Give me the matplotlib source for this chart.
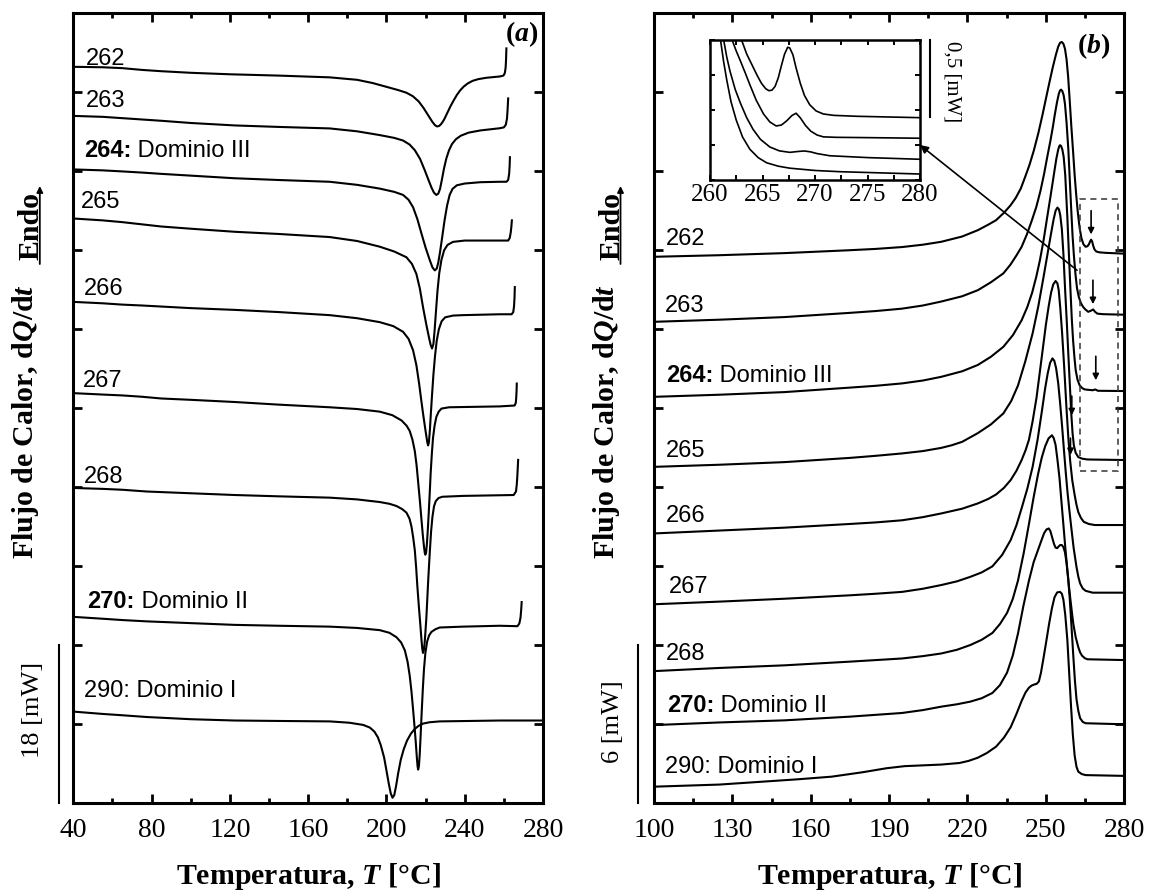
import numpy as np
import matplotlib
matplotlib.use("Agg")
import matplotlib.pyplot as plt
from matplotlib.ticker import MultipleLocator, NullLocator, FixedLocator
from matplotlib.patches import Rectangle, ConnectionPatch, FancyArrowPatch
from matplotlib.transforms import blended_transform_factory as blend

SERIF = "Liberation Serif"
SANS = "Liberation Sans"
plt.rcParams["font.family"] = [SERIF, "DejaVu Serif"]
plt.rcParams["mathtext.fontset"] = "custom"
plt.rcParams["mathtext.it"] = "Liberation Serif:italic:bold"
plt.rcParams["mathtext.rm"] = "Liberation Serif:bold"
plt.rcParams["mathtext.bf"] = "Liberation Serif:bold"

# ---------------- data: panel (a), cooling scans (T [°C], heat flow [mW], shifted) -------------
A262 = [(40.5,83.9),(55,83.85),(65,83.75),(75,83.55),(85,83.4),(100,83.22),(120,83.05),(145,82.9),
        (171,82.7),(185,82.42),(193,82.05),(200,81.62),(206,81.25),(210.2,80.95),(213.5,80.55),
        (216.5,79.95),(219,79.2),(221.4,78.35),(223.4,77.65),(224.8,77.25),(225.9,77.1),(227,77.17),
        (228.1,77.42),(229.5,77.9),(231,78.6),(232.6,79.35),(234.3,80.05),(236,80.7),(237.8,81.25),
        (239.5,81.65),(241.5,82.0),(244,82.3),(247,82.5),(251,82.65),(257.9,82.8),(259.8,82.9),
        (260.5,83.2),(260.9,83.8),(261.1,84.6),(261.3,86.0)]
A263 = [(41,78.3),(55,78.2),(65,78.05),(75,77.9),(85,77.75),(100,77.5),(122.5,77.22),(145,77.05),
        (171,76.88),(185,76.55),(196.6,76.12),(204,75.8),(208.5,75.5),(211.8,75.05),(214.5,74.4),
        (217.2,73.4),(219.6,72.1),(221.5,71.0),(223.0,70.15),(224.3,69.55),(225.5,69.3),(226.5,69.45),
        (227.4,70.0),(228.3,71.0),(229.4,72.3),(230.6,73.45),(232,74.4),(233.5,75.1),(235.5,75.65),
        (238,76.05),(242,76.4),(248,76.65),(257.9,76.9),(260,77.0),(261,77.3),(261.6,78.0),
        (261.9,79.0),(262.2,80.3)]
A264 = [(41,72.2),(55,72.1),(65,71.98),(75,71.85),(85,71.7),(100,71.5),(122.5,71.2),(145,71.0),
        (171,70.8),(185,70.45),(196.6,70.02),(204,69.65),(208.5,69.3),(211.3,68.75),(213.6,67.9),
        (215.8,66.55),(217.9,64.9),(220,63.3),(222.1,61.9),(223.5,61.05),(224.7,60.7),(225.7,60.9),
        (226.5,61.6),(227.4,62.8),(228.5,64.5),(229.7,66.4),(231,68.1),(232.3,69.3),(233.8,70.0),
        (236,70.4),(240,70.6),(248,70.75),(257.9,70.8),(261.3,70.8),(262.2,71.0),(262.7,71.7),
        (262.95,72.6),(263.1,73.6)]
A265 = [(41,66.6),(55,66.4),(65,66.2),(75,65.95),(85,65.7),(100,65.45),(122.5,65.1),(145,64.85),
        (171,64.5),(185,64.05),(196.6,63.4),(204,62.85),(210.2,62.2),(213,61.45),(215.3,60.3),
        (217.1,58.6),(218.7,56.5),(220.4,54.5),(221.7,53.1),(222.6,52.2),(223.3,51.8),(224.0,52.3),
        (224.6,53.8),(225.3,56.0),(226.1,58.4),(227.0,60.4),(228.1,61.9),(229.5,63.0),(231.2,63.6),
        (234,63.95),(240,64.1),(262.2,64.1),(263.0,64.4),(263.5,65.0),(263.8,65.6),(264.1,66.4)]
A266 = [(41,57.1),(55,56.95),(65,56.8),(75,56.7),(85,56.58),(100,56.4),(122.5,56.2),(145,55.95),
        (171,55.6),(185,55.25),(196.6,54.8),(203.5,54.35),(208.5,53.7),(211.3,52.9),(213.6,51.6),
        (215.3,49.9),(216.7,47.8),(217.8,45.9),(218.7,44.4),(219.6,43.0),(220.4,41.8),(220.9,41.1),
        (221.3,40.75),(221.7,41.1),(222.2,42.5),(222.7,44.4),(223.3,46.5),(224.0,48.8),(224.8,50.9),
        (225.7,52.7),(226.8,54.0),(228.2,54.9),(230,55.35),(234,55.55),(239.1,55.6),(257.9,55.7),
        (264.0,55.7),(264.8,55.95),(265.2,56.6),(265.45,57.6),(265.6,58.8)]
A267 = [(41,46.7),(55,46.55),(65,46.45),(75,46.3),(85,46.1),(100,45.95),(122.5,45.7),(145,45.4),
        (171,45.1),(185,44.9),(196.6,44.6),(203,44.2),(207.7,43.6),(210.3,43.0),(211.9,42.4),
        (213.3,41.4),(214.5,40.1),(215.4,38.5),(216.2,36.6),(217.1,34.4),(217.9,32.3),(218.6,30.5),
        (219.2,29.2),(219.6,28.5),(219.9,28.3),(220.3,28.6),(220.7,29.6),(221.1,31.0),(221.6,33.0),
        (222.1,35.2),(222.6,37.6),(223.2,39.8),(223.8,41.6),(224.6,43.0),(225.5,44.0),(226.7,44.6),
        (228.1,44.95),(232,45.1),(257.9,45.2),(265.5,45.3),(266.1,45.6),(266.35,46.3),(266.5,47.0),
        (266.6,47.8)]
A268 = [(40.5,35.9),(55,35.8),(65,35.7),(77.5,35.5),(100,35.3),(122.5,35.1),(145,34.95),(171,34.8),
        (185,34.6),(196.6,34.3),(201.5,34.1),(205.1,33.85),(208,33.5),(210.2,33.1),(211.8,32.4),
        (212.8,31.5),(213.7,30.2),(214.5,28.8),(215.2,26.8),(215.8,24.7),(216.6,22.3),(217.4,20.1),
        (217.9,18.6),(218.3,17.6),(218.7,17.1),(219.1,17.4),(219.5,18.2),(219.9,19.4),(220.4,21.1),
        (220.8,22.9),(221.4,25.6),(222.1,28.4),(222.8,30.9),(223.5,32.6),(224.3,33.8),(225.2,34.4),
        (226.6,34.75),(228.5,34.9),(239.1,35.0),(265,35.1),(266.2,35.5),(266.6,36.3),(266.9,37.3),
        (267.3,39.1)]
A270 = [(41,21.2),(55,21.0),(65,20.85),(77.5,20.7),(100,20.5),(122.5,20.3),(145,20.2),(171,20.1),
        (185,19.95),(196.6,19.7),(201.5,19.4),(205.1,18.9),(207.5,18.3),(209.4,17.4),(210.8,16.1),
        (211.9,14.5),(212.8,12.7),(213.6,10.7),(214.4,8.6),(215.0,6.9),(215.5,5.3),(215.9,4.2),
        (216.2,3.8),(216.6,4.2),(217.0,5.5),(217.5,7.8),(218.0,10.3),(218.6,13.0),(219.2,15.3),
        (219.9,17.1),(220.8,18.4),(221.8,19.1),(223.0,19.5),(225,19.8),(227.2,20.0),(239.1,20.1),
        (257.9,20.2),(266.9,20.15),(267.9,20.45),(268.5,21.1),(268.85,22.0),(269.1,22.9)]
A290 = [(41,10.4),(55,10.15),(65,10.0),(77.5,9.8),(100,9.55),(122.5,9.4),(145,9.35),(171,9.3),
        (181,9.15),(188.1,8.9),(191.5,8.6),(193.8,8.15),(195.6,7.5),(197.1,6.6),(198.8,5.2),
        (200.1,3.6),(201.2,2.2),(202.2,1.1),(203.1,0.6),(204.0,0.9),(204.9,1.9),(206.0,3.4),
        (207.3,4.9),(208.8,6.1),(210.5,7.1),(212.5,7.9),(214.5,8.45),(216.5,8.8),(218.7,9.05),
        (222,9.2),(227.2,9.3),(257.9,9.4),(280,9.4)]

# ---------------- data: panel (b), heating scans -------------
B262 = [(100,20.75),(125,20.81),(150,20.89),(175,21.00),(185,21.05),(195,21.12),(203,21.21),
        (210,21.32),(218,21.52),(224,21.76),(228,21.97),(231,22.14),(234,22.42),(236.5,22.70),
        (238.5,22.98),(240.5,23.35),(242.2,23.80),(243.8,24.24),(245.5,24.80),(247.2,25.45),
        (248.8,26.15),(250.3,26.85),(251.6,27.45),(252.8,27.98),(253.9,28.42),(254.8,28.73),
        (255.5,28.88),(256.2,28.91),(256.8,28.84),(257.4,28.65),(258.0,28.25),(258.6,27.60),
        (259.2,26.70),(259.8,25.75),(260.5,24.75),(261.1,23.85),(261.7,23.10),(262.3,22.45),
        (263.0,21.85),(263.7,21.45),(264.5,21.22),(265.3,21.13),(266.0,21.15),(266.6,21.23),
        (267.0,21.33),(267.4,21.40),(267.8,21.33),(268.2,21.17),(268.7,21.03),(269.4,20.95),
        (270.5,20.92),(273,20.90),(280,20.87)]
B263 = [(100,18.28),(125,18.36),(150,18.46),(175,18.62),(185,18.69),(195,18.78),(203,18.90),
        (210,19.05),(218,19.25),(224,19.48),(229,19.78),(233.8,20.12),(236.5,20.45),(238.8,20.80),
        (240.8,21.13),(242.8,21.60),(244.6,22.10),(246.4,22.64),(248,23.25),(249.4,23.90),
        (250.6,24.54),(251.8,25.15),(252.7,25.65),(253.5,26.15),(254.3,26.60),(255.0,26.93),
        (255.5,27.07),(255.9,27.10),(256.4,27.04),(256.9,26.88),(257.4,26.55),(258.0,25.85),
        (258.7,24.80),(259.25,23.65),(259.8,22.52),(260.3,21.55),(260.8,20.81),(261.4,20.10),
        (262,19.56),(262.7,19.22),(263.5,18.99),(264.3,18.85),(265.2,18.75),(266.3,18.66),
        (267.3,18.70),(268.2,18.75),(268.9,18.66),(269.8,18.59),(272,18.57),(280,18.55)]
B264 = [(100,15.43),(125,15.51),(150,15.61),(175,15.78),(185,15.85),(195,15.94),(203,16.05),
        (210,16.19),(218,16.40),(224,16.64),(229,16.95),(233.8,17.33),(237.5,17.78),(240.8,18.34),
        (243,18.85),(244.8,19.38),(246.4,19.99),(247.8,20.62),(249.2,21.38),(250.6,22.26),
        (251.7,22.95),(252.6,23.52),(253.4,24.04),(254.1,24.48),(254.8,24.82),(255.2,24.95),
        (255.5,24.99),(255.9,24.96),(256.4,24.82),(256.9,24.54),(257.5,23.85),(258.3,22.26),
        (258.9,20.85),(259.5,19.48),(260.0,18.40),(260.5,17.58),(261.0,16.95),(261.5,16.44),
        (262.2,16.08),(263,15.87),(264,15.76),(265,15.71),(268,15.68),(269,15.71),(270,15.66),
        (280,15.65)]
B265 = [(100,12.77),(125,12.85),(150,12.95),(175,13.11),(185,13.19),(195,13.28),(203,13.37),
        (210,13.49),(214,13.59),(218,13.72),(224,14.05),(229,14.38),(233.8,14.80),(236.8,15.27),
        (239.4,15.86),(242.2,16.78),(245,17.84),(247.2,18.88),(249.2,19.99),(250.7,20.85),
        (252,21.60),(253,22.15),(253.8,22.50),(254.5,22.62),(255.1,22.55),(255.6,22.32),
        (256.2,21.80),(256.8,20.85),(257.4,19.60),(258.1,18.25),(258.7,17.01),(259.3,15.80),
        (259.8,14.80),(260.3,14.05),(260.8,13.58),(261.5,13.30),(262.5,13.14),(264,13.08),
        (266,13.05),(280,13.03)]
B266 = [(100,10.24),(125,10.35),(150,10.46),(175,10.60),(185,10.66),(195,10.74),(203,10.86),
        (210,11.00),(218,11.18),(224,11.38),(228,11.55),(231,11.72),(234,11.97),(236.6,12.27),
        (238.8,12.62),(240.8,13.03),(242.3,13.40),(243.6,13.80),(245,14.50),(246.5,15.40),
        (247.8,16.40),(248.9,17.25),(250.1,18.18),(251.2,18.90),(252.1,19.40),(252.9,19.70),
        (253.8,19.83),(254.5,19.74),(255.0,19.48),(255.6,18.80),(256.3,17.85),(257.1,16.55),
        (258,14.95),(258.7,13.85),(259.4,12.98),(260.2,12.25),(261.1,11.70),(261.8,11.33),
        (262.5,11.05),(263.5,10.83),(264.6,10.68),(266.5,10.60),(268.8,10.56),(280,10.56)]
B267 = [(100,7.55),(125,7.65),(150,7.76),(175,7.89),(185,7.95),(195,8.02),(203,8.14),(210,8.28),
        (216,8.42),(221.1,8.59),(225.5,8.76),(229.6,8.99),(233.3,9.42),(236.6,9.99),(238.8,10.55),
        (240.8,11.20),(243,11.95),(245,12.77),(246.9,13.80),(248.5,14.85),(249.8,15.75),
        (250.8,16.33),(251.7,16.72),(252.6,16.89),(253.3,16.80),(254,16.52),(254.8,15.95),
        (255.5,15.23),(256.3,14.30),(257,13.41),(257.7,12.55),(258.4,11.77),(259.1,11.10),
        (259.7,10.56),(260.7,9.70),(261.8,8.97),(262.5,8.60),(263.2,8.34),(264.2,8.15),(265.3,8.06),
        (268,7.99),(280,7.99)]
B268 = [(100,5.01),(125,5.13),(150,5.23),(175,5.37),(185,5.43),(195,5.49),(203,5.58),(210,5.68),
        (216,5.82),(221.1,6.00),(225.5,6.20),(229.6,6.46),(232.5,6.80),(235.2,7.22),(237.4,7.75),
        (239.4,8.45),(241.6,9.50),(243.6,10.60),(245.4,11.62),(247.1,12.50),(248.5,13.12),
        (249.8,13.55),(251.1,13.85),(252.4,13.97),(253.1,13.86),(253.8,13.60),(254.5,13.05),
        (255.3,12.34),(256,11.50),(256.8,10.56),(257.5,9.72),(258.3,8.85),(258.9,8.25),(259.5,7.71),
        (260.1,7.20),(260.6,6.80),(261.5,6.30),(262.5,5.92),(263.2,5.72),(263.9,5.60),(265,5.50),
        (266,5.46),(280,5.43)]
B270 = [(100,2.96),(125,3.06),(150,3.14),(175,3.28),(185,3.35),(195,3.42),(203,3.53),(210,3.66),
        (216,3.75),(221.1,3.85),(225.5,3.98),(229.6,4.18),(232.5,4.48),(235.2,4.95),(237.4,5.60),
        (239.4,6.44),(241.5,7.50),(243.6,8.45),(245.4,9.15),(247.1,9.62),(248.4,9.98),(249.4,10.25),
        (250.3,10.39),(251.2,10.43),(251.8,10.33),(252.4,10.12),(253.2,9.84),(253.8,9.70),
        (254.4,9.68),(255.0,9.75),(255.6,9.80),(256.2,9.80),(256.8,9.72),(257.4,9.52),(258.0,9.12),
        (258.6,8.55),(259.2,7.80),(259.9,6.70),(260.6,5.56),(261.2,4.65),(261.8,3.95),(262.5,3.50),
        (263.2,3.22),(264.2,3.08),(265.3,3.03),(280,2.99)]
B290 = [(100,0.62),(125,0.70),(140,0.80),(155,0.90),(168,1.00),(180,1.17),(189,1.32),(196,1.40),
        (203,1.43),(210,1.46),(217,1.52),(220.5,1.60),(224,1.72),(227.5,1.90),(231,2.14),(234,2.48),
        (236.6,2.88),(238.8,3.38),(240.8,3.88),(242.3,4.20),(243.6,4.38),(244.6,4.46),(245.6,4.50),
        (246.6,4.53),(247.4,4.62),(248.2,4.95),(249.2,5.52),(250.2,6.12),(251.3,6.80),(252.4,7.40),
        (253.4,7.82),(254.4,8.00),(255.5,8.02),(256.2,7.95),(256.8,7.72),(257.5,7.15),(258.3,6.20),
        (259,4.95),(259.7,3.70),(260.4,2.60),(261.1,1.80),(261.8,1.38),(262.5,1.19),(263.8,1.10),
        (265.3,1.06),(280,1.03)]

# ---------------- data: inset of panel (b), 260-280 °C -------------
I262 = [(262.4,1.108),(263.0,0.913),(263.5,0.820),(264,0.750),(264.5,0.680),(264.9,0.630),
        (265.3,0.595),(265.6,0.582),(265.9,0.585),(266.2,0.610),(266.5,0.665),(266.8,0.745),
        (267.1,0.820),(267.4,0.865),(267.6,0.860),(267.9,0.815),(268.2,0.730),(268.6,0.630),
        (269.0,0.550),(269.5,0.490),(270.1,0.450),(270.8,0.430),(271.8,0.421),(274,0.415),(280,0.406)]
I263 = [(261.5,1.108),(262.1,0.913),(262.5,0.840),(262.9,0.775),(263.4,0.690),(263.8,0.620),
        (264.4,0.520),(265.1,0.430),(265.7,0.378),(266.3,0.352),(266.8,0.358),(267.3,0.385),
        (267.8,0.420),(268.2,0.435),(268.6,0.405),(269.1,0.355),(269.6,0.318),(270.2,0.293),
        (270.8,0.281),(272,0.278),(275,0.276),(280,0.272)]
I264 = [(260.8,1.108),(261.3,0.913),(261.6,0.800),(261.9,0.710),(262.4,0.590),(262.9,0.500),
        (263.5,0.405),(264.1,0.330),(264.8,0.265),(265.7,0.215),(266.6,0.190),(267.6,0.180),
        (268.4,0.186),(269,0.189),(269.6,0.183),(270.2,0.172),(271.4,0.158),(275,0.146),(280,0.135)]
I265 = [(260.6,1.108),(261,0.913),(261.3,0.770),(261.6,0.650),(262,0.510),(262.5,0.390),
        (263.1,0.280),(263.8,0.200),(264.6,0.145),(265.4,0.112),(266.5,0.090),(267.6,0.077),
        (270,0.062),(272.4,0.054),(280,0.039)]

# curve labels: (T, heat flow at text baseline, bold part, plain part)
LABELS_A = [(46.5,84.1,"","262"),(46.5,79.3,"","263"),(45.3,73.6,"264:"," Dominio III"),
            (44.1,67.8,"","265"),(45.6,57.9,"","266"),(44.7,47.4,"","267"),(45.6,36.5,"","268"),
            (47.1,22.2,"270:"," Dominio II"),(45.3,12.1,"","290: Dominio I")]
LABELS_B = [(104.6,21.19,"","262"),(104.1,18.66,"","263"),(104.6,16.0,"264:"," Dominio III"),
            (104.6,13.15,"","265"),(104.6,10.68,"","266"),(105.6,7.96,"","267"),(104.6,5.43,"","268"),
            (104.9,3.47,"270:"," Dominio II"),(104.1,1.13,"","290: Dominio I")]

SCALE_A = 18      # mW
SCALE_B = 6       # mW
SCALE_INSET = 0.5 # mW

# dashed box (T0, T1, Q0, Q1) and small arrows (T, Q start, Q end) in panel (b)
DASH_BOX = (263.2, 277.7, 12.61, 22.94)
SMALL_ARROWS = [(267.4,22.5,21.6),(268.1,19.86,18.95),(269.2,16.97,16.06),
                (260.0,15.46,14.73),(259.5,13.86,13.22)]
BIG_ARROW_TAIL = (262.0, 20.24)   # panel (b) data
BIG_ARROW_HEAD = (280.0, 0.228)   # inset data

# ---------------- figure ----------------
W, H = 1149, 892
fig = plt.figure(figsize=(W/100, H/100), dpi=100)
axL = fig.add_axes([73.3/W, 89/H, 469.7/W, 789.7/H])
axR = fig.add_axes([654/W, 89/H, 470/W, 789.7/H])
axI = fig.add_axes([710/W, (H-180)/H, 210/W, 140/H])

LW = 1.5

def style(ax, xlim, ylim, xmaj, xmin, ymaj):
    ax.set_xlim(*xlim)
    ax.set_ylim(*ylim)
    ax.xaxis.set_major_locator(FixedLocator(np.arange(xlim[0], xlim[1] + 0.1, xmaj)))
    ax.xaxis.set_minor_locator(FixedLocator(np.arange(xlim[0], xlim[1] + 0.1, xmin)))
    ax.yaxis.set_major_locator(MultipleLocator(ymaj))
    ax.yaxis.set_minor_locator(NullLocator())
    ax.tick_params(which="both", direction="in", top=True, right=True, width=2, color="k")
    ax.tick_params(which="major", length=6.5)
    ax.tick_params(which="minor", length=3.5)
    ax.tick_params(axis="x", labelsize=20, pad=11)
    ax.tick_params(axis="y", labelleft=False)
    for s in ax.spines.values():
        s.set_linewidth(2.2)

style(axL, (40, 280), (0, 90), 40, 20, 9)
style(axR, (100, 280), (0, 30), 30, 15, 3)

for c in (A262, A263, A264, A265, A266, A267, A268, A270, A290):
    a = np.array(c)
    axL.plot(a[:, 0], a[:, 1], color="k", lw=LW, solid_joinstyle="round")
for c in (B262, B263, B264, B265, B266, B267, B268, B270, B290):
    a = np.array(c)
    axR.plot(a[:, 0], a[:, 1], color="k", lw=LW, solid_joinstyle="round")

def curve_label(ax, x, y, bold, plain):
    if bold:
        t = ax.text(x, y, bold, fontsize=17, family=SANS, fontweight="bold",
                    ha="left", va="baseline")
        ax.annotate(plain, xy=(1, 0), xycoords=t, fontsize=17, family=SANS,
                    ha="left", va="bottom")
    else:
        ax.text(x, y, plain, fontsize=17, family=SANS, ha="left", va="baseline")

for lab in LABELS_A:
    curve_label(axL, *lab)
for lab in LABELS_B:
    curve_label(axR, *lab)

# panel letters
axL.text(0.955, 0.974, r"($\mathit{a}$)", transform=axL.transAxes, ha="center", va="center",
         fontsize=20, fontweight="bold")
axR.text(0.936, 0.959, r"($\mathit{b}$)", transform=axR.transAxes, ha="center", va="center",
         fontsize=20, fontweight="bold")

# scale bars
for ax, val, xl, xt, yt, txt in ((axL, SCALE_A, -0.0296, -0.0858, 10.6, "18 [mW]"),
                                 (axR, SCALE_B, -0.034, -0.088, 3.08, "6 [mW]")):
    tr = blend(ax.transAxes, ax.transData)
    ax.plot([xl, xl], [0, val], transform=tr, clip_on=False, color="k", lw=1.5)
    ax.text(xt, yt, txt, transform=tr, rotation=90, ha="center", va="center",
            fontsize=19, family=SERIF, clip_on=False)

# axis labels
ylab = r"Flujo de Calor, d$\mathit{Q}$/d$\mathit{t}$"
for x0 in (73.3, 654):
    fig.text((x0-47.5)/W, 1-422/H, ylab, rotation=90, ha="center", va="center",
             fontsize=21.5, fontweight="bold", family=SERIF)
    fig.text((x0-42.5)/W, 1-226.5/H, "Endo", rotation=90, ha="center", va="center",
             fontsize=21.5, fontweight="bold", family=SERIF)
    fig.add_artist(FancyArrowPatch(((x0-33.5)/W, 1-264/H), ((x0-33.5)/W, 1-186/H),
                                   transform=fig.transFigure, arrowstyle="-|>",
                                   mutation_scale=9, lw=1.3, color="k",
                                   shrinkA=0, shrinkB=0))
xlab = r"Temperatura, $\mathit{T}$ [°C]"
fig.text(308/W, 1-877/H, xlab, ha="center", va="center", fontsize=21.5,
         fontweight="bold", family=SERIF)
fig.text(889/W, 1-877/H, xlab, ha="center", va="center", fontsize=21.5,
         fontweight="bold", family=SERIF)

# dashed box and small arrows
T0, T1, Q0, Q1 = DASH_BOX
axR.add_patch(Rectangle((T0, Q0), T1-T0, Q1-Q0, fill=False, ls=(0, (4, 3)), lw=1.1,
                        ec="#333333", zorder=3))
for T, qa, qb in SMALL_ARROWS:
    axR.annotate("", xy=(T, qb), xytext=(T, qa),
                 arrowprops=dict(arrowstyle="-|>", lw=1.2, mutation_scale=9, color="k",
                                 shrinkA=0, shrinkB=0))

# inset
axI.set_facecolor("white")
axI.set_xlim(260, 280)
axI.set_ylim(0, 0.912)
axI.xaxis.set_major_locator(MultipleLocator(5))
axI.xaxis.set_minor_locator(MultipleLocator(2.5))
axI.yaxis.set_major_locator(MultipleLocator(0.228))
axI.yaxis.set_minor_locator(NullLocator())
axI.tick_params(which="both", direction="in", top=True, right=True, length=3.5, width=1.4)
axI.tick_params(axis="x", labelsize=18, pad=3)
axI.tick_params(axis="y", labelleft=False)
for s in axI.spines.values():
    s.set_linewidth(1.8)
for c in (I262, I263, I264, I265):
    a = np.array(c)
    axI.plot(a[:, 0], a[:, 1], color="k", lw=1.2, solid_joinstyle="round")
tri = blend(axI.transAxes, axI.transData)
axI.plot([1.048, 1.048], [0.912, 0.912-SCALE_INSET], transform=tri, clip_on=False,
         color="k", lw=1.5)
axI.text(1.15, 0.64, "0,5 [mW]", transform=tri, rotation=270, ha="center", va="center",
         fontsize=15, family=SERIF, clip_on=False)

con = ConnectionPatch(xyA=BIG_ARROW_TAIL, coordsA=axR.transData,
                      xyB=BIG_ARROW_HEAD, coordsB=axI.transData,
                      arrowstyle="-|>", mutation_scale=12, lw=1.2, color="k",
                      shrinkA=0, shrinkB=0)
fig.add_artist(con)

fig.savefig("out.png", dpi=100)
